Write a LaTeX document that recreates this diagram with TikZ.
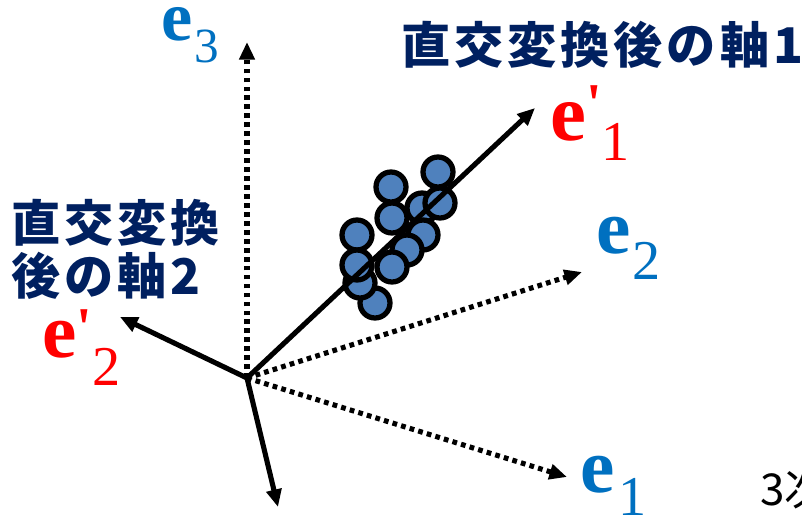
\documentclass[tikz,border=0pt]{standalone}
\usepackage{fontspec}
\setmainfont{Liberation Serif}
\newfontfamily\primefont{Liberation Serif}[Ligatures=TeXOff]
\newfontfamily\jpfont{Noto Sans CJK JP}
\usetikzlibrary{arrows.meta,positioning}
\definecolor{navy}{HTML}{002060}
\definecolor{axblue}{HTML}{0070C0}
\definecolor{ptblue}{HTML}{4F81BD}

\begin{document}
\begin{tikzpicture}[x=0.02cm,y=-0.02cm,
  newax/.style={line width=2.9pt,-{Triangle[length=10pt,width=8.5pt]}},
  oldax/.style={line width=2.9pt,dash pattern=on 2.7pt off 2.4pt,-{Triangle[length=10pt,width=8.5pt]}},
  pt/.style={circle,draw,line width=3pt,fill=ptblue,minimum size=0.6cm,inner sep=0pt},
  bluelab/.style={text=axblue,inner sep=0pt,anchor=base west},
  redlab/.style={text=red,inner sep=0pt,anchor=base west},
  jplab/.style={text=navy,inner sep=0pt,font=\jpfont\bfseries\fontsize{28}{30}\selectfont\addfontfeature{LetterSpace=8}}]
\useasboundingbox (0,0) rectangle (802,521);
\clip (0,0) rectangle (802,521);

% axes
\coordinate (o) at (247,378);
\coordinate (t1) at (567,477);
\coordinate (t2) at (582,272);
\coordinate (t3) at (247,42);
\coordinate (n1) at (535,108);
\coordinate (n2) at (120,317);
\coordinate (n3) at (278,507);

\draw[oldax] (o) -- (t3);
\draw[oldax] (o) -- (t2);
\draw[oldax] (o) -- (t1);

% data points
\foreach \px/\py in {422/208, 440/203, 423/235, 407/250, 375/303, 360/283,
                     438/172, 391/187, 392/218, 357/235, 357/265, 392/267}
  \node[pt] at (\px,\py) {};

\draw[newax] (o) -- (n1);
\draw[newax] (o) -- (n2);
\draw[newax] (o) -- (n3);

% labels
\node[bluelab] (le3) at (161,40) {\bfseries\fontsize{40}{40}\selectfont e\kern1pt\raisebox{-13pt}{\mdseries\fontsize{28}{28}\selectfont 3}};
\node[bluelab] (le2) at (596,253) {\bfseries\fontsize{44}{44}\selectfont e\kern1pt\raisebox{-15pt}{\mdseries\fontsize{32}{32}\selectfont 2}};
\node[bluelab] (le1) at (580,492) {\bfseries\fontsize{44}{44}\selectfont e\kern2pt\raisebox{-13.5pt}{\mdseries\fontsize{32}{32}\selectfont 1}};
\node[redlab] (lf1) at (550,140) {\bfseries\fontsize{46}{46}\selectfont e\raisebox{10pt}{\primefont\bfseries\fontsize{32}{32}\selectfont '}\raisebox{-11.5pt}{\mdseries\fontsize{32}{32}\selectfont 1}};
\node[redlab] (lf2) at (42,357) {\bfseries\fontsize{44}{44}\selectfont e\raisebox{6pt}{\primefont\bfseries\fontsize{32}{32}\selectfont '}\raisebox{-16pt}{\mdseries\fontsize{32}{32}\selectfont 2}};

\node[jplab,anchor=west] (ax1) at (401,45) {直交変換後の軸1};
\node[jplab,anchor=north west,align=left] (ax2) at (11,199) {直交変換\\後の軸2};
\node[inner sep=0pt,anchor=base west] (dim) at (760,505) {\jpfont\fontsize{25}{25}\selectfont 3次元};
\end{tikzpicture}
\end{document}
